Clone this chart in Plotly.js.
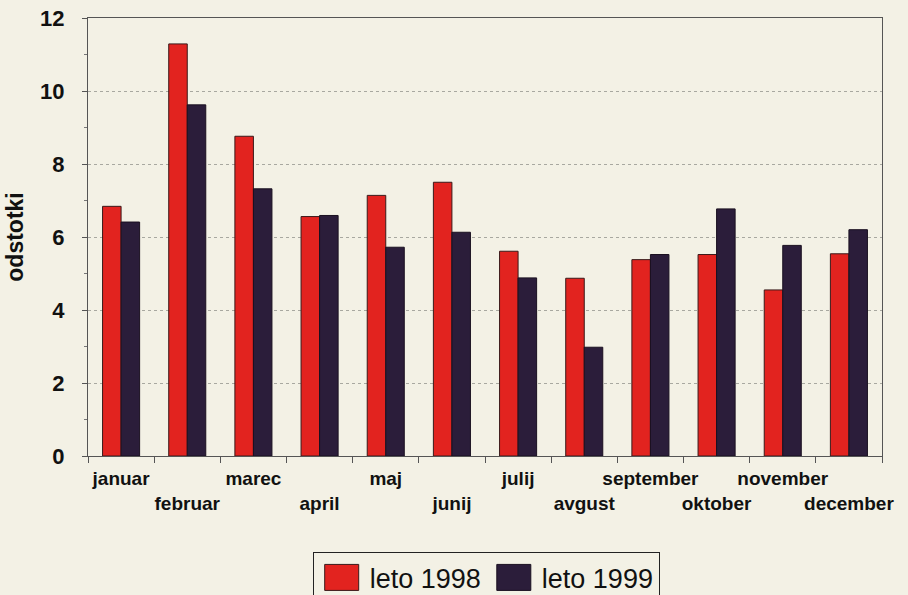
<!DOCTYPE html>
<html>
<head>
<meta charset="utf-8">
<script src="https://cdn.plot.ly/plotly-3.0.1.min.js"></script>
<style>
html,body{margin:0;padding:0;background:#f3f1e5;}
#chart{width:908px;height:595px;}
</style>
</head>
<body>
<div id="chart"></div>
<script>
const months = ['januar','februar','marec','april','maj','junij','julij','avgust','september','oktober','november','december'];
const leto1998 = [6.84, 11.29, 8.76, 6.56, 7.14, 7.50, 5.61, 4.87, 5.38, 5.52, 4.55, 5.54];
const leto1999 = [6.41, 9.62, 7.32, 6.59, 5.72, 6.13, 4.88, 2.98, 5.52, 6.77, 5.77, 6.20];
const seriesNames = ['leto 1998', 'leto 1999'];
const yTicks = [0, 2, 4, 6, 8, 10, 12];

// staggered category labels (every second one on a lower row)
const xCats = months.map((m, i) => (i % 2 ? '<br>' + m : m));

const traces = [
  {type:'bar', name:seriesNames[0], x:xCats, y:leto1998,
   marker:{color:'#e2231f', line:{color:'#3a1a1a', width:1}}},
  {type:'bar', name:seriesNames[1], x:xCats, y:leto1999,
   marker:{color:'#2b1d3a', line:{color:'#1a1020', width:1}}}
];

const layout = {
  width:908, height:595,
  paper_bgcolor:'#f3f1e5', plot_bgcolor:'#f3f1e5',
  margin:{l:88, r:26, t:18, b:139, autoexpand:false},
  barmode:'group', bargap:0.44, bargroupgap:0,
  font:{family:'Liberation Sans, Arial, sans-serif', color:'#111'},
  showlegend:true,
  legend:{orientation:'h', x:0.283, xanchor:'left', y:-0.22, yanchor:'top',
          font:{size:27, color:'#111'}, bgcolor:'#f3f1e5',
          bordercolor:'#222', borderwidth:1, itemwidth:46, traceorder:'normal'},
  xaxis:{type:'category', tickson:'boundaries', ticks:'outside', ticklen:6, tickcolor:'#555',
         showline:true, linecolor:'#555', linewidth:1, mirror:true,
         tickfont:{size:19, weight:'bold', color:'#111'}, tickangle:0, ticklabelstandoff:5,
         automargin:false},
  yaxis:{range:[0,12], tickvals:yTicks, ticktext:yTicks.map(String), ticks:'outside', ticklen:5, tickcolor:'#555',
         showline:true, linecolor:'#555', linewidth:1, mirror:true,
         showgrid:true, gridcolor:'#a8a8a0', griddash:'dot', gridwidth:1, zeroline:false,
         minor:{dtick:1, ticks:'outside', ticklen:3, tickcolor:'#777', showgrid:false},
         tickfont:{size:22, weight:'bold', color:'#111'}, ticklabelstandoff:13,
         title:{text:'odstotki', font:{size:23, weight:'bold', color:'#111'}, standoff:10},
         automargin:false}
};

Plotly.newPlot('chart', traces, layout, {displayModeBar:false, staticPlot:true}).then(() => {
  // enlarge legend swatches to look like the reference's big squares
  document.querySelectorAll('.legend .legendpoints path').forEach(p => {
    p.setAttribute('d', 'M17,13H-17V-13H17Z');
  });
});
</script>
</body>
</html>
